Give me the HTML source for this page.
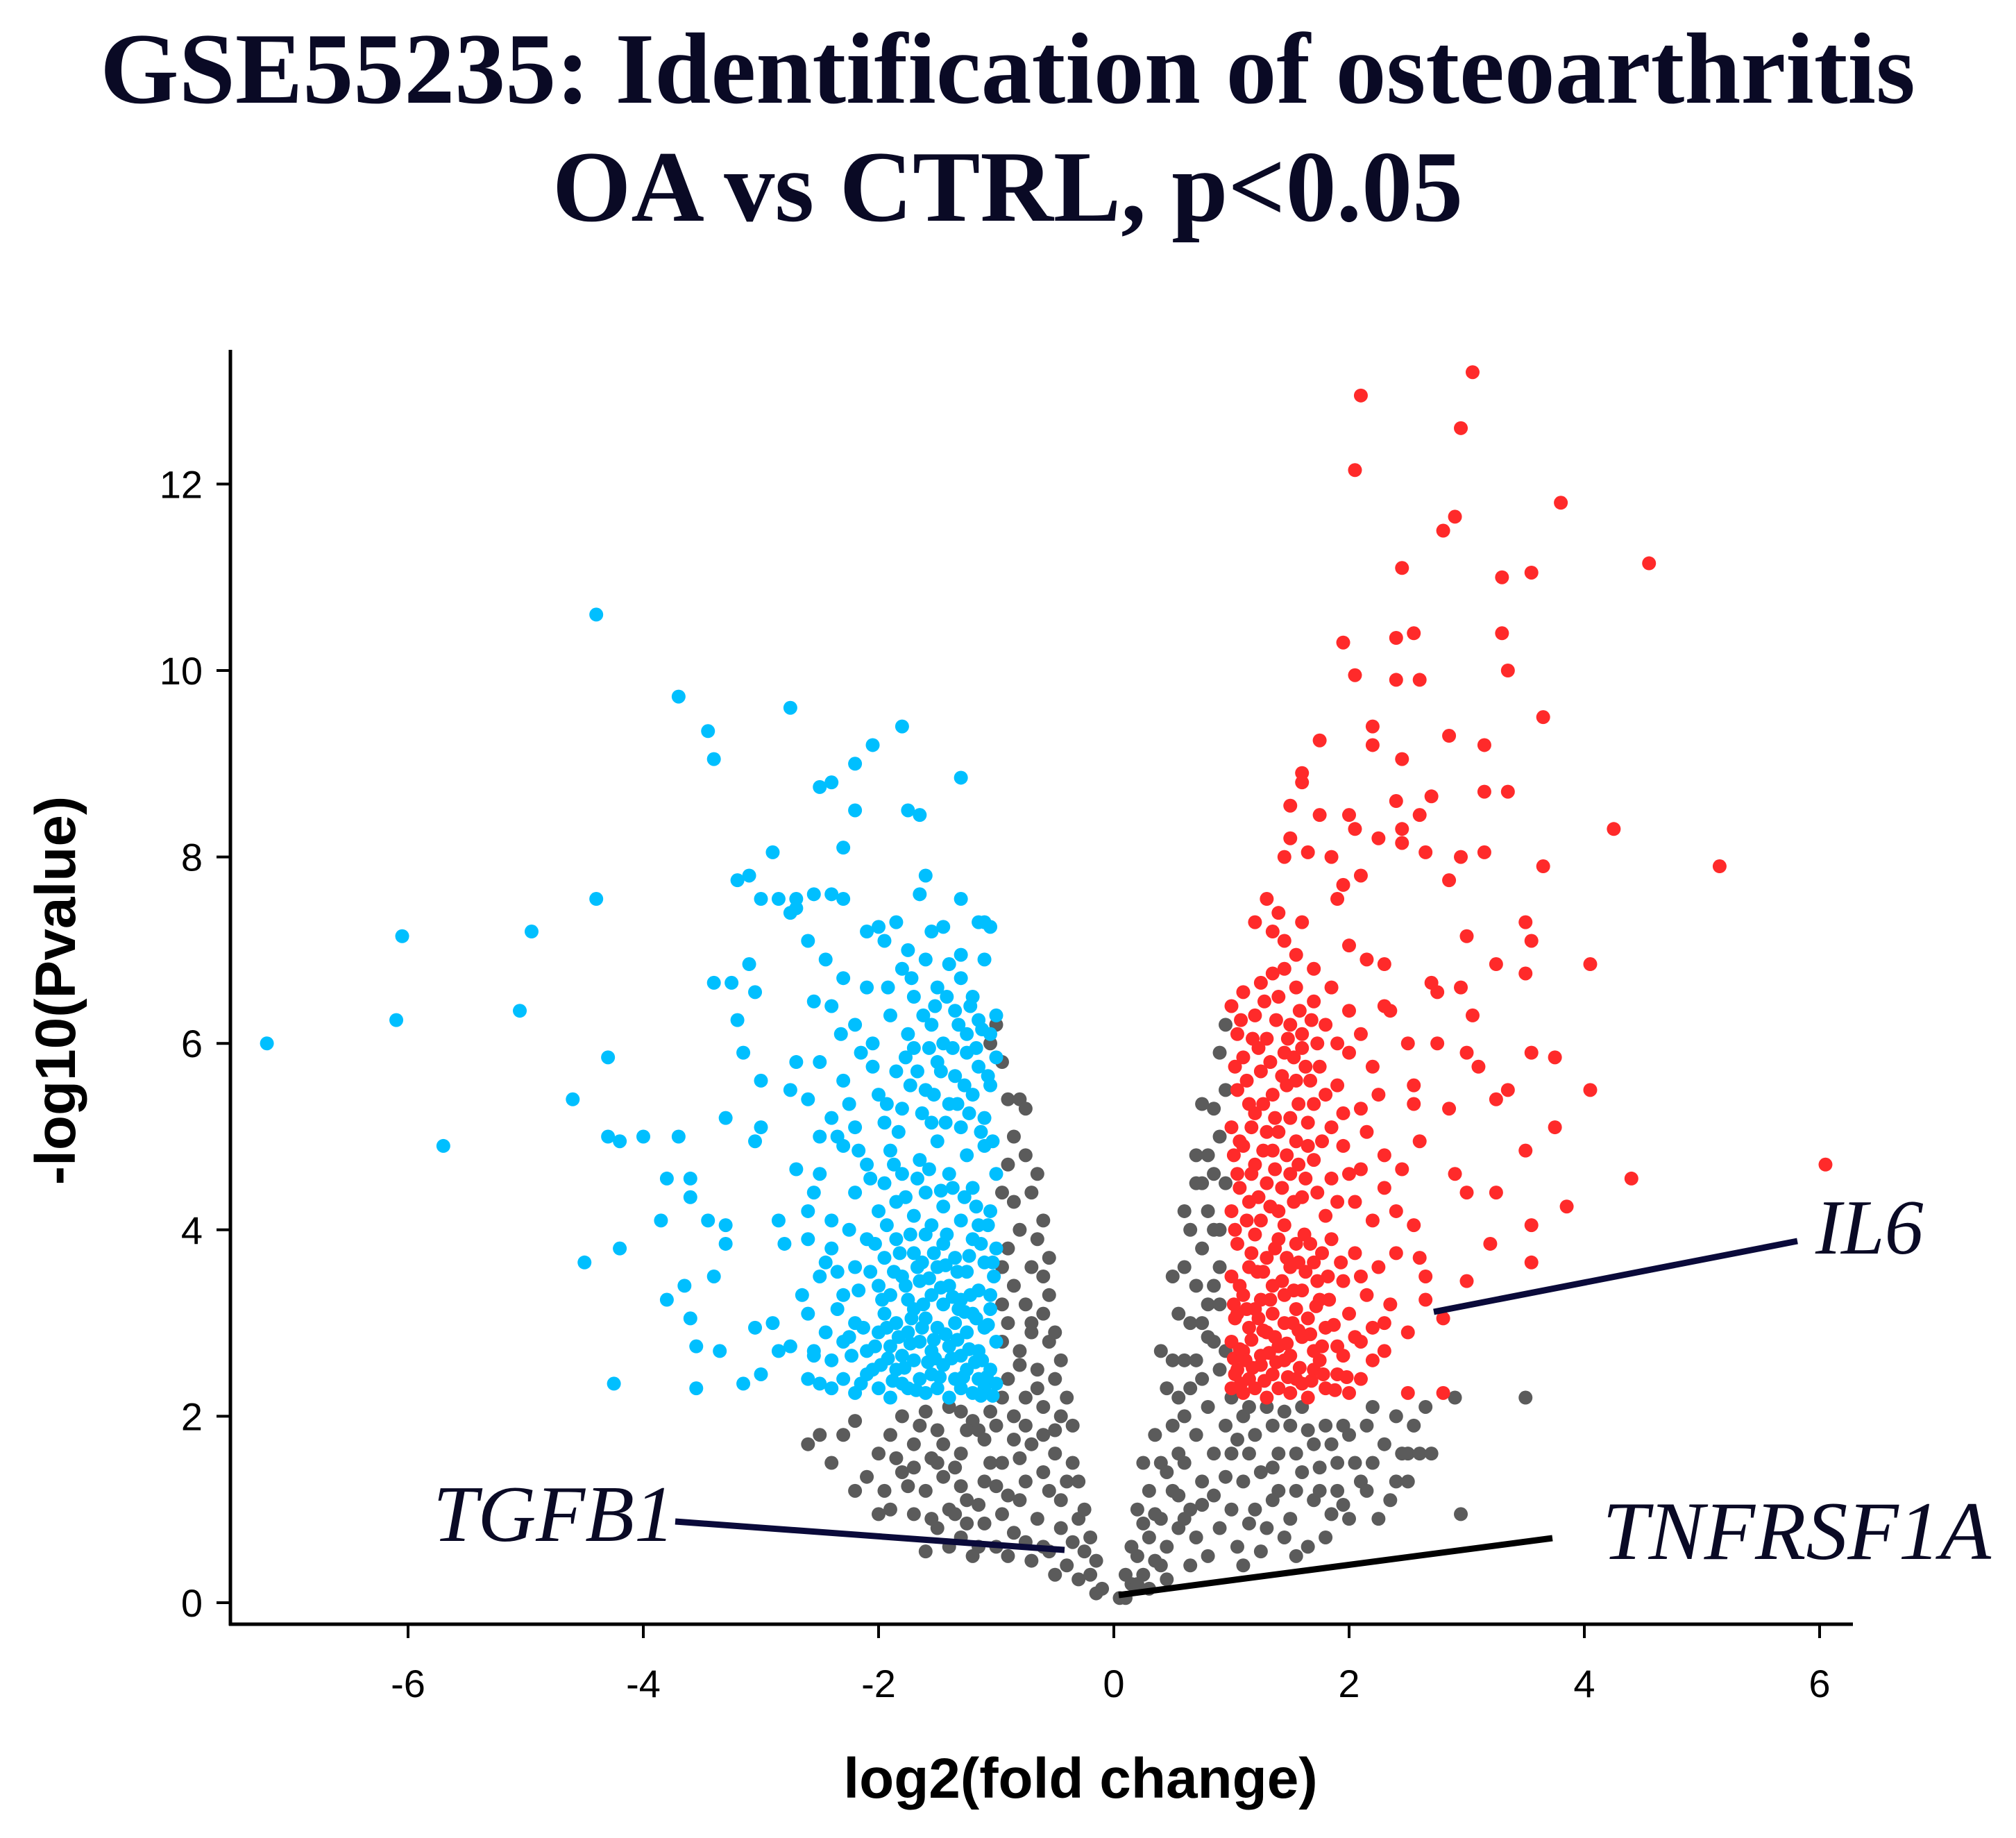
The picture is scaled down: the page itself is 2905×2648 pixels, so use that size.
<!DOCTYPE html>
<html><head><meta charset="utf-8"><style>
html,body{margin:0;padding:0;background:#fff;}
svg{display:block;}
</style></head><body>
<svg id="chart" width="2905" height="2648" viewBox="0 0 2905 2648" xmlns="http://www.w3.org/2000/svg" style="position:absolute;left:0;top:0">
<rect width="2905" height="2648" fill="#fff"/>
<text x="1452" y="148" text-anchor="middle" font-family="Liberation Serif, serif" font-weight="bold" font-size="146" fill="#0a0a25">GSE55235: Identification of osteoarthritis</text>
<text x="1452" y="318" text-anchor="middle" font-family="Liberation Serif, serif" font-weight="bold" font-size="146" fill="#0a0a25">OA vs CTRL, p&lt;0.05</text>
<g id="marks"></g>
<g id="axes"></g>
<text transform="translate(108,1427) rotate(-90)" text-anchor="middle" font-family="Liberation Sans, sans-serif" font-weight="bold" font-size="82" fill="#000">-log10(Pvalue)</text>
<text x="1557" y="2590" text-anchor="middle" font-family="Liberation Sans, sans-serif" font-weight="bold" font-size="82" fill="#000">log2(fold change)</text>
<line x1="2066" y1="1890" x2="2590" y2="1788" stroke="#0a0a3a" stroke-width="9"/>
<text x="2616" y="1806" font-family="Liberation Serif, serif" font-style="italic" font-size="112" fill="#0a0a25">IL6</text>
<line x1="973" y1="2192" x2="1534" y2="2233" stroke="#0a0a3a" stroke-width="9"/>
<text x="624" y="2220" font-family="Liberation Serif, serif" font-style="italic" font-size="116" fill="#0a0a25">TGFB1</text>
<line x1="1612" y1="2298" x2="2237" y2="2216" stroke="#000" stroke-width="9"/>
<text x="2309" y="2246" font-family="Liberation Serif, serif" font-style="italic" font-size="120" fill="#0a0a25">TNFRSF1A</text>
</svg>
<script>
const xTicks=[-6,-4,-2,0,2,4,6];
const yTicks=[0,2,4,6,8,10,12];
const bluePoints=[[-7.2,6.0],[-6.05,7.15],[-6.1,6.25],[-5.7,4.9],[-5.05,6.35],[-4.95,7.2],[-4.4,10.6],[-4.4,7.55],[-4.3,5.85],[-4.6,5.4],[-4.3,5.0],[-4.2,4.95],[-4.0,5.0],[-3.7,5.0],[-3.7,9.72],[-3.45,9.35],[-3.4,9.05],[-4.5,3.65],[-4.2,3.8],[-4.25,2.35],[-3.8,4.55],[-3.6,4.55],[-3.85,4.1],[-3.6,4.35],[-3.45,4.1],[-3.3,4.05],[-3.3,3.85],[-3.4,3.5],[-3.65,3.4],[-3.8,3.25],[-3.6,3.05],[-3.55,2.75],[-3.35,2.7],[-3.55,2.3],[-3.15,2.35],[-3.0,2.45],[-2.9,3.0],[-3.05,2.95],[-2.85,2.7],[-3.3,5.2],[-3.15,5.9],[-3.0,5.6],[-3.05,4.95],[-3.0,5.1],[-3.2,6.25],[-3.25,6.65],[-3.1,6.85],[-3.4,6.65],[-3.05,6.55],[-3.2,7.75],[-3.1,7.8],[-3.0,7.55],[-2.85,7.55],[-2.75,7.4],[-2.7,7.55],[-2.7,7.45],[-2.55,7.6],[-2.6,7.1],[-2.9,8.05],[-2.75,9.6],[-2.4,8.8],[-2.5,8.75],[-2.2,9.0],[-2.3,8.1],[-2.2,8.5],[-2.05,9.2],[-1.8,9.4],[-1.75,8.5],[-1.65,8.45],[-1.3,8.85],[-2.0,7.25],[-1.6,7.8],[-1.65,7.6],[-1.3,7.55],[-1.1,7.3],[-1.05,7.25],[-1.15,7.3],[-2.4,7.6],[-2.3,7.55],[-2.75,2.75],[-2.55,2.7],
[-2.4,2.3],[-2.3,2.4],[-2.2,2.25],[-2.1,2.45],[-2.0,2.3],[-1.9,2.2],[-1.85,2.5],[-1.75,2.3],[-1.7,2.6],[-1.6,2.25],[-1.55,2.45],[-1.5,2.3],[-1.45,2.55],[-1.4,2.2],[-1.35,2.4],[-1.3,2.3],[-1.25,2.5],[-1.2,2.25],[-1.15,2.4],[-1.1,2.3],[-1.05,2.5],[-1.0,2.35],[-1.65,2.4],[-1.8,2.35],[-2.5,2.35],[-2.6,2.4],
[-2.3,2.8],[-2.2,3.0],[-2.1,2.7],[-2.0,2.9],[-1.95,3.1],[-1.9,2.75],[-1.85,3.0],[-1.8,2.65],[-1.75,2.9],[-1.7,3.15],[-1.65,2.8],[-1.6,3.05],[-1.55,2.7],[-1.5,2.95],[-1.45,3.2],[-1.4,2.75],[-1.35,3.0],[-1.3,2.65],[-1.25,2.9],[-1.2,3.1],[-1.15,2.7],[-1.1,2.95],[-1.05,3.15],[-1.0,2.8],[-1.12,2.6],[-1.32,3.15],[-1.52,2.62],[-1.72,3.05],[-1.92,2.62],[-2.45,2.9],[-2.6,3.1],[-2.35,3.15],[-2.55,2.65],
[-2.5,3.5],[-2.4,3.8],[-2.3,3.3],[-2.2,3.6],[-2.1,3.9],[-2.0,3.4],[-1.95,3.7],[-1.9,3.3],[-1.85,3.9],[-1.8,3.5],[-1.75,3.25],[-1.7,3.75],[-1.65,3.45],[-1.6,3.95],[-1.55,3.3],[-1.5,3.6],[-1.45,3.85],[-1.4,3.4],[-1.35,3.7],[-1.3,3.25],[-1.25,3.55],[-1.2,3.9],[-1.15,3.35],[-1.1,3.65],[-1.05,3.3],[-1.0,3.8],[-1.02,3.5],[-1.22,3.3],[-1.42,3.95],[-1.62,3.2],[-1.82,3.75],[-2.6,3.9],[-2.65,3.3],
[-2.6,4.2],[-2.5,4.6],[-2.4,4.1],[-2.3,4.9],[-2.2,4.4],[-2.1,4.7],[-2.0,4.2],[-1.9,4.85],[-1.85,4.3],[-1.8,4.6],[-1.7,4.15],[-1.65,4.75],[-1.6,4.4],[-1.5,4.95],[-1.45,4.25],[-1.4,4.6],[-1.3,4.1],[-1.25,4.8],[-1.2,4.45],[-1.1,4.9],[-1.05,4.2],[-1.0,4.6],[-1.15,4.05],[-1.55,4.05],[-1.95,4.5],[-2.25,4.0],[-2.85,4.1],[-2.8,3.85],[-2.7,4.65],
[-2.6,5.4],[-2.5,5.8],[-2.4,5.2],[-2.3,5.6],[-2.2,5.1],[-2.15,5.9],[-2.0,5.45],[-1.95,5.15],[-1.85,5.7],[-1.8,5.3],[-1.7,5.95],[-1.6,5.5],[-1.55,5.15],[-1.5,5.8],[-1.4,5.35],[-1.35,5.65],[-1.3,5.1],[-1.25,5.9],[-1.2,5.45],[-1.15,5.75],[-1.1,5.2],[-1.05,5.55],[-1.0,5.85],[-2.7,5.8],[-2.75,5.5],[-2.35,5.0],
[-2.4,6.4],[-2.3,6.7],[-2.2,6.2],[-2.1,6.6],[-2.05,6.0],[-1.9,6.3],[-1.8,6.8],[-1.75,6.1],[-1.7,6.5],[-1.6,6.9],[-1.55,6.2],[-1.5,6.6],[-1.45,6.0],[-1.4,6.85],[-1.35,6.35],[-1.3,6.7],[-1.25,6.1],[-1.2,6.5],[-1.15,6.25],[-1.1,6.9],[-1.05,6.1],[-1.0,6.3],[-2.55,6.45],[-2.45,6.9],[-1.95,7.1],[-1.75,7.0],[-1.55,7.2],[-1.45,7.25],[-1.3,6.95],[-2.1,7.2],[-1.85,7.3]];
const bluePointsDense=[[-1.98,2.55],[-1.88,2.38],[-1.78,2.52],[-1.68,2.28],[-1.58,2.58],[-1.48,2.42],[-1.38,2.62],[-1.28,2.42],[-1.18,2.58],[-1.08,2.42],[-1.03,2.22],[-1.13,2.22],[-1.23,2.72],[-1.33,2.82],[-1.43,2.88],[-1.53,2.82],[-1.63,2.95],[-1.73,2.78],[-1.83,2.85],[-1.93,2.95],[-2.03,2.75],[-2.13,2.95],[-2.23,2.65],[-1.07,2.98],[-1.17,3.05],[-1.27,3.12],[-1.37,3.28],[-1.47,3.38],[-1.57,3.48],[-1.67,3.6],[-1.77,3.4],[-1.87,3.55],[-1.97,3.25],[-2.07,3.55],[-2.17,3.35],[-1.03,3.65],[-1.13,3.85],[-1.23,3.72],[-1.33,3.55],[-1.43,3.62],[-1.53,3.75],[-1.63,3.65],[-1.73,3.95],[-1.93,4.05],[-2.03,3.85],[-1.07,4.05],[-1.17,4.25],[-1.27,4.35],[-1.37,4.45],[-1.47,4.42],[-1.57,4.65],[-1.67,4.55],[-1.77,4.35],[-1.87,4.7],[-2.07,4.55],[-2.17,4.85],[-1.03,4.95],[-1.13,5.05],[-1.23,5.25],[-1.33,5.35],[-1.43,5.15],[-1.53,5.45],[-1.63,5.25],[-1.73,5.55],[-1.83,5.05],[-1.93,5.35],[-2.05,5.75],[-2.25,5.35],[-1.07,5.65],[-1.17,5.95],[-1.27,5.55],[-1.37,5.95],[-1.47,5.7],[-1.57,5.95],[-1.67,5.7],[-1.77,5.85],[-1.12,6.15],[-1.22,6.4],[-1.32,6.2],[-1.42,6.5],[-1.52,6.4],[-1.62,6.3],[-1.72,6.7],[-1.92,6.6],[-2.32,6.1],[-2.5,5.0],[-2.55,4.4],[-2.45,3.65],[-2.35,3.55],[-2.25,2.85],[-2.4,2.6],[-2.15,2.35],[-2.05,2.5]];
const grayPoints=[[-1.0,6.2],[-1.05,6.0],[-0.95,5.8],[-0.9,5.4],[-0.8,5.4],[-0.75,5.3],[-0.85,5.0],[-0.9,4.7],[-0.75,4.8],[-0.7,4.4],[-0.85,4.3],[-0.8,4.0],[-0.65,3.9],[-0.9,3.8],[-0.7,3.6],[-0.6,3.5],[-0.85,3.4],[-0.75,3.2],[-0.6,3.1],[-0.9,3.0],[-0.7,2.9],[-0.55,2.8],[-0.8,2.7],[-0.65,2.5],[-0.9,2.4],[-0.5,2.4],[-0.75,2.2],[-0.6,2.1],[-0.45,2.0],[-0.85,2.0],[-1.0,1.9],[-1.2,1.95],[-1.4,2.1],[-1.6,2.05],[-1.8,2.0],[-1.9,1.8],[-2.3,1.8],[-2.4,1.5],[-2.2,1.95],[-2.0,1.6],[-1.7,1.7],[-1.5,1.85],[-1.3,1.6],[-1.1,1.75],[-0.95,1.5],[-0.7,1.7],[-0.5,1.6],[-0.4,1.3],[-0.55,1.2],[-0.75,1.3],[-0.9,1.15],[-1.1,1.3],[-1.25,1.1],[-1.45,1.35],[-1.6,1.2],[-1.8,1.4],[-1.95,1.2],[-2.0,0.95],[-1.7,0.95],[-1.5,0.8],[-1.3,0.7],[-1.1,0.85],[-0.85,0.75],[-0.65,0.9],[-0.45,0.8],[-0.3,0.9],[-0.25,0.55],[-0.4,0.4],[-0.55,0.55],[-0.7,0.45],[-0.9,0.5],[-1.2,0.5],[-0.3,0.25],[-0.2,0.3],[-0.15,0.1],[-0.1,0.15],[-0.35,0.65],[-0.6,0.6],[-1.0,0.6],[-1.4,1.0],[-1.55,1.55],[-1.75,1.25],[-1.35,1.45],[-1.15,1.05],[-0.95,0.95],[-0.8,1.1],[-0.6,1.4],[-0.45,1.1],[-0.35,1.5],[-0.5,1.85],[-0.65,2.3],[-0.55,3.3],[-0.7,3.0],[-0.8,2.55],[-0.95,2.2],[-1.05,2.05],[-1.25,1.85],[-1.45,1.7],[-1.65,1.9],[-1.85,1.55],[-2.1,1.35],[-1.55,0.9],[-1.25,0.85],[-1.05,1.5],[-0.75,1.9],[-0.6,1.8],
[0.05,0.05],[0.1,0.3],[0.15,0.2],[0.2,0.5],[0.25,0.3],[0.3,0.7],[0.35,0.45],[0.4,0.9],[0.45,0.6],[0.5,1.2],[0.55,0.8],[0.6,1.5],[0.65,1.0],[0.7,1.8],[0.75,1.3],[0.8,2.1],[0.85,1.6],[0.9,2.5],[0.95,1.9],[1.0,2.2],[0.2,1.0],[0.3,1.2],[0.4,1.5],[0.5,1.9],[0.55,2.2],[0.6,2.6],[0.65,3.0],[0.7,3.4],[0.75,3.8],[0.8,4.2],[0.85,4.6],[0.9,5.0],[0.95,5.5],[0.95,6.2],[0.9,5.9],[0.85,5.3],[0.75,5.35],[0.7,4.5],[0.65,4.0],[0.6,3.6],[0.55,3.1],[0.5,2.6],[0.45,2.3],[0.35,1.8],[0.25,1.5],[0.4,2.7],[0.5,3.5],[0.6,4.2],[0.7,4.8],[0.8,3.2],[0.9,3.6],[0.85,2.8],[0.75,2.4],[1.1,2.0],[1.2,1.8],[1.3,2.1],[1.4,1.6],[1.5,1.9],[1.6,2.1],[1.7,1.7],[1.8,1.9],[1.9,1.5],[2.0,1.8],[2.1,1.3],[2.2,1.5],[2.3,1.7],[2.4,1.3],[2.5,1.6],[2.6,1.6],[2.5,1.3],[2.35,1.1],[2.9,2.2],[3.5,2.2],[2.95,0.95],[1.1,1.3],[1.2,1.0],[1.3,0.8],[1.4,1.2],[1.5,0.9],[1.6,1.4],[1.7,1.1],[1.8,0.7],[1.9,1.2],[2.0,0.9],[1.0,1.0],[0.9,0.8],[1.05,0.6],[0.8,0.5],[0.65,0.4],[1.15,1.6],[1.35,1.45],[1.55,1.2],[1.75,1.45],[1.95,1.05],[2.15,1.9],[2.4,2.0],[2.2,2.1],[1.25,0.55],[0.45,0.25],[0.3,0.15],[0.15,0.6],[1.45,0.7],[1.65,0.6],[0.95,1.35],[1.05,1.75],[0.7,0.7],[0.55,1.15],[0.85,1.15]];
const grayPointsDense=[[-0.95,4.4],[-0.95,3.6],[-0.95,3.2],[-0.95,2.8],[-0.65,4.6],[-0.6,4.1],[-0.55,3.7],[-0.5,2.9],[-0.45,2.6],[-0.4,2.2],[-0.35,1.9],[-0.3,1.3],[-0.25,1.0],[-0.2,0.7],[-0.15,0.45],[-1.3,2.05],[-1.5,1.5],[-1.7,1.45],[-1.9,1.0],[-2.2,1.2],[-2.5,1.8],[-2.6,1.7],[-1.3,1.25],[-1.0,1.25],[-0.8,1.55],[-1.15,0.6],[-0.75,0.65],[-1.4,0.6],[-0.5,0.3],[-0.85,1.75],[-1.15,1.85],[-1.35,0.95],[-1.6,0.55],
[0.1,0.05],[0.2,0.2],[0.35,0.95],[0.45,1.4],[0.55,1.6],[0.6,2.0],[0.65,2.3],[0.7,2.6],[0.75,3.0],[0.8,2.85],[0.85,3.4],[0.9,4.0],[0.95,4.5],[0.85,4.0],[0.8,4.8],[0.75,4.5],[0.9,3.2],[0.95,2.7],[1.0,1.6],[1.15,2.1],[1.25,1.4],[1.35,1.9],[1.45,2.05],[1.55,1.6],[1.65,1.85],[1.75,1.2],[1.85,1.7],[1.95,1.9],[2.05,1.5],[2.15,1.2],[2.25,0.9],[2.45,1.6],[2.55,1.9],[2.7,1.6],[2.65,2.1],[1.15,0.85],[1.35,1.1],[1.55,0.5],[1.85,0.95],[0.25,0.85],[0.4,0.4],[0.6,0.9],[0.75,1.05],[1.1,0.4]];
const redPoints=[[3.05,13.2],[2.1,12.95],[2.95,12.6],[2.05,12.15],[3.8,11.8],[2.9,11.65],[2.8,11.5],[4.55,11.15],[2.45,11.1],[3.3,11.0],[3.55,11.05],[1.95,10.3],[2.55,10.4],[2.4,10.35],[3.3,10.4],[2.05,9.95],[2.4,9.9],[2.6,9.9],[3.35,10.0],[3.65,9.5],[2.2,9.4],[2.2,9.2],[1.75,9.25],[2.45,9.05],[2.85,9.3],[3.15,9.2],[1.6,8.9],[1.6,8.8],[1.5,8.55],[1.75,8.45],[2.0,8.45],[2.25,8.2],[2.4,8.6],[2.45,8.3],[2.45,8.15],[2.6,8.45],[2.7,8.65],[3.15,8.7],[3.35,8.7],[4.25,8.3],[1.5,8.2],[1.45,8.0],[1.65,8.05],[1.85,8.0],[2.05,8.3],[2.65,8.05],[2.95,8.0],[3.15,8.05],[5.15,7.9],[3.65,7.9],[2.85,7.75],[2.1,7.8],[1.95,7.7],[1.9,7.55],[1.3,7.55],[1.4,7.4],[1.35,7.2],[1.6,7.3],[1.2,7.3],[1.45,7.1],[1.55,6.95],[1.7,6.8],[2.0,7.05],[2.15,6.9],[2.3,6.85],[2.7,6.65],[2.95,6.6],[3.0,7.15],[3.25,6.85],[3.5,7.3],[3.55,7.1],[3.5,6.75],[4.05,6.85],[3.05,6.3],[2.75,6.55],[2.3,6.4],[2.35,6.35],[2.5,6.0],[2.55,5.55],[2.55,5.35],[2.75,6.0],[3.0,5.9],[3.1,5.75],[3.25,5.4],[3.35,5.5],[3.55,5.9],[3.75,5.85],[4.05,5.5],[3.75,5.1],[3.5,4.85],[3.0,4.4],[3.25,4.4],[2.9,4.6],[2.85,5.3],[2.6,4.95],[2.45,4.65],[2.55,4.05],[2.6,3.7],[2.4,3.75],[2.65,3.5],[2.65,3.25],[3.0,3.45],[3.2,3.85],[3.55,4.05],[3.55,3.65],[3.85,4.25],[4.4,4.55],[6.05,4.7],[2.8,3.05],[2.5,2.9],[2.3,3.0],[2.5,2.25],[2.8,2.25],
[1.0,2.3],[1.05,2.5],[1.1,2.25],[1.15,2.4],[1.2,2.3],[1.25,2.55],[1.3,2.2],[1.35,2.45],[1.4,2.3],[1.45,2.6],[1.5,2.25],[1.55,2.4],[1.6,2.35],[1.7,2.5],[1.8,2.3],[1.9,2.45],[2.0,2.25],[1.12,2.6],[1.65,2.2],[1.75,2.6],
[1.0,2.8],[1.05,3.1],[1.1,2.7],[1.15,2.95],[1.2,3.15],[1.25,2.65],[1.3,2.9],[1.35,3.1],[1.4,2.75],[1.45,3.0],[1.5,2.65],[1.55,3.15],[1.6,2.85],[1.65,3.05],[1.7,2.7],[1.8,2.95],[1.9,2.75],[2.0,3.1],[2.1,2.8],[2.2,2.95],[1.02,2.62],[1.32,2.68],[1.52,3.0],[1.72,3.18],[1.95,2.65],
[1.0,3.5],[1.05,3.85],[1.1,3.3],[1.15,3.6],[1.2,3.95],[1.25,3.25],[1.3,3.7],[1.35,3.4],[1.4,3.9],[1.45,3.3],[1.5,3.6],[1.55,3.85],[1.6,3.35],[1.7,3.65],[1.75,3.25],[1.85,3.9],[1.95,3.45],[2.05,3.75],[2.15,3.3],[2.25,3.6],[1.02,3.2],[1.22,3.55],[1.62,3.95],[1.82,3.5],
[1.0,4.2],[1.05,4.6],[1.1,4.9],[1.15,4.3],[1.2,4.7],[1.25,4.1],[1.3,4.5],[1.35,4.85],[1.4,4.2],[1.5,4.6],[1.55,4.95],[1.6,4.35],[1.7,4.75],[1.8,4.15],[1.85,4.55],[1.95,4.9],[2.05,4.3],[2.1,4.65],[2.2,4.1],[2.3,4.45],[1.02,4.8],[1.45,4.05],[1.65,4.9],
[1.0,5.1],[1.05,5.5],[1.1,5.85],[1.2,5.25],[1.25,5.7],[1.3,5.05],[1.35,5.45],[1.45,5.9],[1.5,5.2],[1.55,5.6],[1.6,5.95],[1.7,5.35],[1.75,5.75],[1.85,5.1],[1.9,5.55],[2.0,5.9],[2.1,5.3],[2.2,5.75],[1.15,5.35],[1.4,5.05],[1.65,5.15],
[1.0,6.4],[1.05,6.1],[1.1,6.55],[1.2,6.3],[1.3,6.05],[1.4,6.5],[1.5,6.2],[1.55,6.6],[1.6,6.1],[1.7,6.45],[1.8,6.2],[1.9,6.0],[2.0,6.35],[1.25,6.65],[1.45,6.8],[1.35,6.75],[1.85,6.6]];
const redPointsDense=[[1.03,2.45],[1.08,2.35],[1.18,2.52],[1.28,2.38],[1.38,2.58],[1.48,2.42],[1.58,2.52],[1.68,2.38],[1.78,2.45],[1.88,2.28],[1.98,2.42],[1.07,2.72],[1.17,2.82],[1.27,2.92],[1.37,2.85],[1.47,2.78],[1.57,2.92],[1.67,2.88],[1.77,2.75],[1.87,2.98],[2.05,2.85],[1.03,3.05],[1.13,3.15],[1.23,3.05],[1.33,3.25],[1.43,3.45],[1.53,3.35],[1.63,3.55],[1.73,3.45],[1.83,3.25],[1.93,3.65],[2.1,3.5],[1.07,3.4],[1.17,3.75],[1.27,3.55],[1.37,3.8],[1.47,3.7],[1.57,3.65],[1.67,3.85],[1.77,3.75],[1.03,4.0],[1.13,4.1],[1.23,4.35],[1.33,4.25],[1.43,4.45],[1.53,4.3],[1.63,4.55],[1.73,4.4],[1.9,4.3],[2.0,4.6],[1.07,4.45],[1.17,4.6],[1.27,4.85],[1.37,4.65],[1.47,4.8],[1.57,4.7],[1.77,4.95],[1.07,4.95],[1.17,5.1],[1.27,5.35],[1.37,5.2],[1.47,5.55],[1.57,5.35],[1.67,5.6],[1.8,5.45],[1.95,5.25],[1.03,5.75],[1.13,5.6],[1.23,5.95],[1.33,5.8],[1.43,5.65],[1.53,5.85],[1.63,5.75],[1.73,6.0],[1.08,6.25],[1.18,6.05],[1.28,6.45],[1.38,6.25],[1.48,6.05],[1.58,6.35],[1.68,6.25],[2.1,6.1],[2.15,5.05],[2.25,5.45],[2.3,4.8],[2.35,3.2],[2.4,4.2],[2.2,2.6],[2.1,2.4],[2.3,2.7]];

const NS="http://www.w3.org/2000/svg";
const X0=1605, XU=169.5, Y0=2309, YU=134.3;
function sx(v){return X0+v*XU;}
function sy(v){return Y0-v*YU;}
function mk(tag,attrs,parent){const e=document.createElementNS(NS,tag);for(const k in attrs)e.setAttribute(k,attrs[k]);parent.appendChild(e);return e;}

const marks=document.getElementById('marks');
function drawSeries(pts,color,name){
  const g=mk('g',{fill:color},marks);
  
  
  pts.forEach(p=>{
    const c=mk('circle',{cx:sx(p[0]),cy:sy(p[1]),r:10},g);
    
    
  });
}
drawSeries(grayPoints.concat(grayPointsDense),'#5b5b5b','nonsignificant');
drawSeries(bluePoints.concat(bluePointsDense),'#00bfff','downregulated');
drawSeries(redPoints.concat(redPointsDense),'#ff2a2a','upregulated');

const axes=document.getElementById('axes');
const yAxis=mk('line',{x1:332,y1:504,x2:332,y2:2342,stroke:'#000','stroke-width':5},axes);


const xAxis=mk('line',{x1:330,y1:2340,x2:2670,y2:2340,stroke:'#000','stroke-width':5},axes);


yTicks.forEach(t=>{
  const l=mk('line',{x1:312,x2:332,y1:sy(t),y2:sy(t),stroke:'#000','stroke-width':4},axes);
  
  
  const tx=mk('text',{x:292,y:sy(t)+20,'text-anchor':'end','font-family':'Liberation Sans, sans-serif','font-size':56,fill:'#000'},axes);
  tx.textContent=t;
  
  
});
xTicks.forEach(t=>{
  const l=mk('line',{x1:sx(t),x2:sx(t),y1:2340,y2:2360,stroke:'#000','stroke-width':4},axes);
  
  
  const tx=mk('text',{x:sx(t),y:2445,'text-anchor':'middle','font-family':'Liberation Sans, sans-serif','font-size':56,fill:'#000'},axes);
  tx.textContent=t;
  
  
});
</script>
</body></html>
